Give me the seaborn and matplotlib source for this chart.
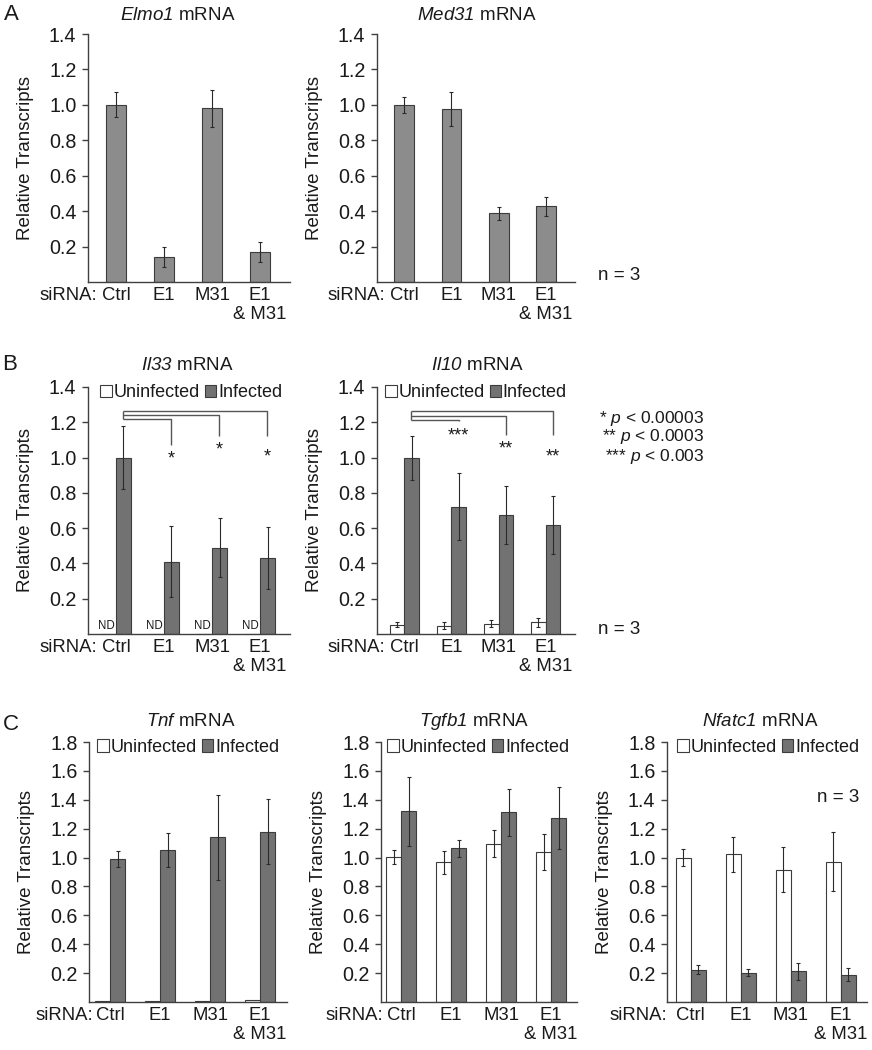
import numpy as np
import pandas as pd
import matplotlib
matplotlib.use("Agg")
import matplotlib.pyplot as plt
import seaborn as sns
from matplotlib.patches import Patch

# ---------------- data ----------------
categories = ["Ctrl", "E1", "M31", "E1\n& M31"]
conditions = ["Uninfected", "Infected"]

# Panel A
elmo1_mean = [1.00, 0.14, 0.98, 0.17]
elmo1_err = [0.07, 0.055, 0.105, 0.055]
med31_mean = [1.00, 0.975, 0.387, 0.427]
med31_err = [0.046, 0.095, 0.035, 0.055]

# Panel B
il33_uninf = [0.0, 0.0, 0.0, 0.0]          # ND
il33_uninf_err = [0.0, 0.0, 0.0, 0.0]
il33_inf = [1.00, 0.41, 0.49, 0.43]
il33_inf_err = [0.18, 0.20, 0.165, 0.177]
il10_uninf = [0.053, 0.047, 0.059, 0.066]
il10_uninf_err = [0.013, 0.019, 0.019, 0.024]
il10_inf = [1.00, 0.72, 0.673, 0.62]
il10_inf_err = [0.125, 0.19, 0.165, 0.165]

# Panel C
tnf_uninf = [0.006, 0.005, 0.010, 0.012]
tnf_uninf_err = [0.0, 0.0, 0.0, 0.0]
tnf_inf = [0.99, 1.05, 1.14, 1.18]
tnf_inf_err = [0.058, 0.117, 0.295, 0.225]
tgfb1_uninf = [1.005, 0.967, 1.095, 1.039]
tgfb1_uninf_err = [0.05, 0.079, 0.094, 0.127]
tgfb1_inf = [1.319, 1.065, 1.314, 1.274]
tgfb1_inf_err = [0.237, 0.06, 0.162, 0.212]
nfatc1_uninf = [1.00, 1.023, 0.916, 0.972]
nfatc1_uninf_err = [0.06, 0.12, 0.154, 0.205]
nfatc1_inf = [0.225, 0.203, 0.212, 0.19]
nfatc1_inf_err = [0.03, 0.025, 0.06, 0.045]

sig_labels = ["* $p$ < 0.00003", "** $p$ < 0.0003", "*** $p$ < 0.003"]

# ---------------- style ----------------
sns.set_theme(style="white")
plt.rcParams["font.family"] = ["Liberation Sans", "DejaVu Sans"]
plt.rcParams["mathtext.fontset"] = "custom"
plt.rcParams["mathtext.rm"] = "Liberation Sans:italic"
plt.rcParams["mathtext.it"] = "Liberation Sans:italic"

GRAY_A = "#8c8c8c"
GRAY_INF = "#727272"
EDGE = "#3c3c3c"
SPINE = "#404040"
TEXT = "#1a1a1a"
ERR = "#2a2a2a"
FS = 13.5
FS_Y = 14.2
FS_X = 13.3

FIG_W, FIG_H = 872, 1050
fig = plt.figure(figsize=(FIG_W / 100, FIG_H / 100), dpi=100)


def add_ax(x0, x1, ytop, ybot):
    return fig.add_axes([x0 / FIG_W, 1 - ybot / FIG_H, (x1 - x0) / FIG_W, (ybot - ytop) / FIG_H])


def style(ax, ymax, xlim, sirna_dx):
    ax.set_xlim(*xlim)
    ax.set_ylim(0, ymax)
    yt = np.arange(0.2, ymax + 0.001, 0.2)
    ax.set_yticks(yt)
    ax.set_yticklabels([f"{t:.1f}" for t in yt])
    sns.despine(ax=ax)
    for s in ["left", "bottom"]:
        ax.spines[s].set_color(SPINE)
        ax.spines[s].set_linewidth(1.0)
    ax.tick_params(axis="y", length=4.3, width=1.0, color=SPINE, pad=4.0,
                   labelsize=FS_Y, labelcolor=TEXT, left=True)
    ax.tick_params(axis="x", length=0, pad=3.3, labelsize=FS_X, labelcolor=TEXT)
    ax.set_xlabel("")
    ax.set_ylabel("Relative Transcripts", fontsize=FS, color=TEXT)
    w = ax.get_position().width * FIG_W
    ax.yaxis.set_label_coords(-54 / w, 0.5)
    ax.annotate("siRNA:", xy=(0, 0), xycoords="axes fraction",
                xytext=(sirna_dx, -3.3 * 100 / 72), textcoords="offset pixels",
                ha="right", va="top", fontsize=FS_X, color=TEXT)


def add_errors(ax, container, errs):
    xs, ys, es = [], [], []
    for bar, e in zip(container, errs):
        if e > 0:
            xs.append(bar.get_x() + bar.get_width() / 2)
            ys.append(bar.get_height())
            es.append(e)
    if xs:
        ax.errorbar(xs, ys, yerr=es, fmt="none", ecolor=ERR, elinewidth=0.8,
                    capsize=1.6, capthick=0.8, zorder=5)


def single_panel(ax, means, errs):
    df = pd.DataFrame({"siRNA": categories, "value": means})
    sns.barplot(data=df, x="siRNA", y="value", order=categories, color=GRAY_A,
                width=0.42, edgecolor=EDGE, linewidth=0.8, errorbar=None,
                saturation=1, ax=ax)
    add_errors(ax, ax.containers[0], errs)


def paired_panel(ax, uninf, uninf_err, inf, inf_err, width):
    df = pd.DataFrame({
        "siRNA": categories * 2,
        "condition": [conditions[0]] * 4 + [conditions[1]] * 4,
        "value": list(uninf) + list(inf),
    })
    sns.barplot(data=df, x="siRNA", y="value", hue="condition", order=categories,
                hue_order=conditions,
                palette={"Uninfected": "white", "Infected": GRAY_INF},
                width=width, gap=0, edgecolor=EDGE, linewidth=0.8,
                errorbar=None, saturation=1, legend=False, ax=ax)
    add_errors(ax, ax.containers[0], uninf_err)
    add_errors(ax, ax.containers[1], inf_err)
    handles = [Patch(facecolor="white", edgecolor=EDGE, linewidth=0.8),
               Patch(facecolor=GRAY_INF, edgecolor=EDGE, linewidth=0.8)]
    ax.legend(handles, conditions, ncol=2, loc="upper right",
              bbox_to_anchor=(1 - 8 / (ax.get_position().width * FIG_W), 1.012),
              frameon=False, handlelength=0.66, handleheight=0.66,
              handletextpad=0.08, columnspacing=0.25, borderaxespad=0,
              borderpad=0, fontsize=13, labelcolor=TEXT)


def bracket(ax, levels, drops, stars, star_y):
    x0 = 0.15
    targets = [1.15, 2.15, 3.15]
    kw = dict(color="#555555", lw=1.0, zorder=4, solid_capstyle="butt")
    ax.plot([x0, x0], [min(levels), max(levels)], **kw)
    for xt, lv, dr, st, sy in zip(targets, levels, drops, stars, star_y):
        ax.plot([x0, xt, xt], [lv, lv, dr], **kw)
        ax.annotate(st, xy=(xt, sy), xycoords="data", xytext=(0, -10.5),
                    textcoords="offset pixels", ha="center", va="baseline",
                    fontsize=13, color=TEXT)


def title(x, y, gene):
    fig.text(x / FIG_W, 1 - y / FIG_H, r"$\mathrm{" + gene + r"}$ mRNA",
             ha="center", va="center", fontsize=FS, color=TEXT)


def ftext(x, y, s, **kw):
    fig.text(x / FIG_W, 1 - y / FIG_H, s, color=TEXT, **kw)


XL_AB = (-0.58, 3.62)

# ---------------- Panel A ----------------
axA1 = add_ax(88, 290, 34, 282)
single_panel(axA1, elmo1_mean, elmo1_err)
style(axA1, 1.4, XL_AB, 9)
axA2 = add_ax(377, 575, 34, 282)
single_panel(axA2, med31_mean, med31_err)
style(axA2, 1.4, XL_AB, 8)
title(178, 15, "Elmo1")
title(477, 15, "Med31")
ftext(619, 275, "n = 3", ha="center", va="center", fontsize=FS)

# ---------------- Panel B ----------------
axB1 = add_ax(88, 290, 387, 634)
paired_panel(axB1, il33_uninf, il33_uninf_err, il33_inf, il33_inf_err, 0.62)
style(axB1, 1.4, XL_AB, 9)
for bar in axB1.containers[0]:
    axB1.text(bar.get_x() + bar.get_width() / 2 - 0.04, 0.012, "ND", ha="center",
              va="bottom", fontsize=8.3, color=TEXT)
bracket(axB1, [1.219, 1.240, 1.266], [1.074, 1.125, 1.125],
        ["*", "*", "*"], [1.026, 1.077, 1.036])

axB2 = add_ax(377, 575, 387, 634)
paired_panel(axB2, il10_uninf, il10_uninf_err, il10_inf, il10_inf_err, 0.62)
style(axB2, 1.4, XL_AB, 8)
bracket(axB2, [1.215, 1.238, 1.263], [1.206, 1.13, 1.13],
        ["***", "**", "**"], [1.159, 1.083, 1.036])
title(187, 365, "Il33")
title(477, 365, "Il10")
for lab, yy in zip(sig_labels, [418, 437, 456]):
    ftext(704, yy, lab, ha="right", va="center", fontsize=12.5)
ftext(619, 630, "n = 3", ha="center", va="center", fontsize=FS)

# ---------------- Panel C ----------------
axC1 = add_ax(89, 287, 742, 1002)
paired_panel(axC1, tnf_uninf, tnf_uninf_err, tnf_inf, tnf_inf_err, 0.6)
style(axC1, 1.8, (-0.42, 3.54), 4)
axC2 = add_ax(381, 577, 742, 1002)
paired_panel(axC2, tgfb1_uninf, tgfb1_uninf_err, tgfb1_inf, tgfb1_inf_err, 0.6)
style(axC2, 1.8, (-0.40, 3.52), 2)
axC3 = add_ax(667, 867, 742, 1002)
paired_panel(axC3, nfatc1_uninf, nfatc1_uninf_err, nfatc1_inf, nfatc1_inf_err, 0.6)
style(axC3, 1.8, (-0.47, 3.52), 0)
title(191, 722, "Tnf")
title(474, 722, "Tgfb1")
title(760, 722, "Nfatc1")
ftext(838, 797, "n = 3", ha="center", va="center", fontsize=FS)

# panel letters
ftext(11, 15, "A", ha="center", va="center", fontsize=16)
ftext(10, 365, "B", ha="center", va="center", fontsize=16)
ftext(11, 724, "C", ha="center", va="center", fontsize=16)

fig.savefig("out.png", dpi=100, facecolor="white")
